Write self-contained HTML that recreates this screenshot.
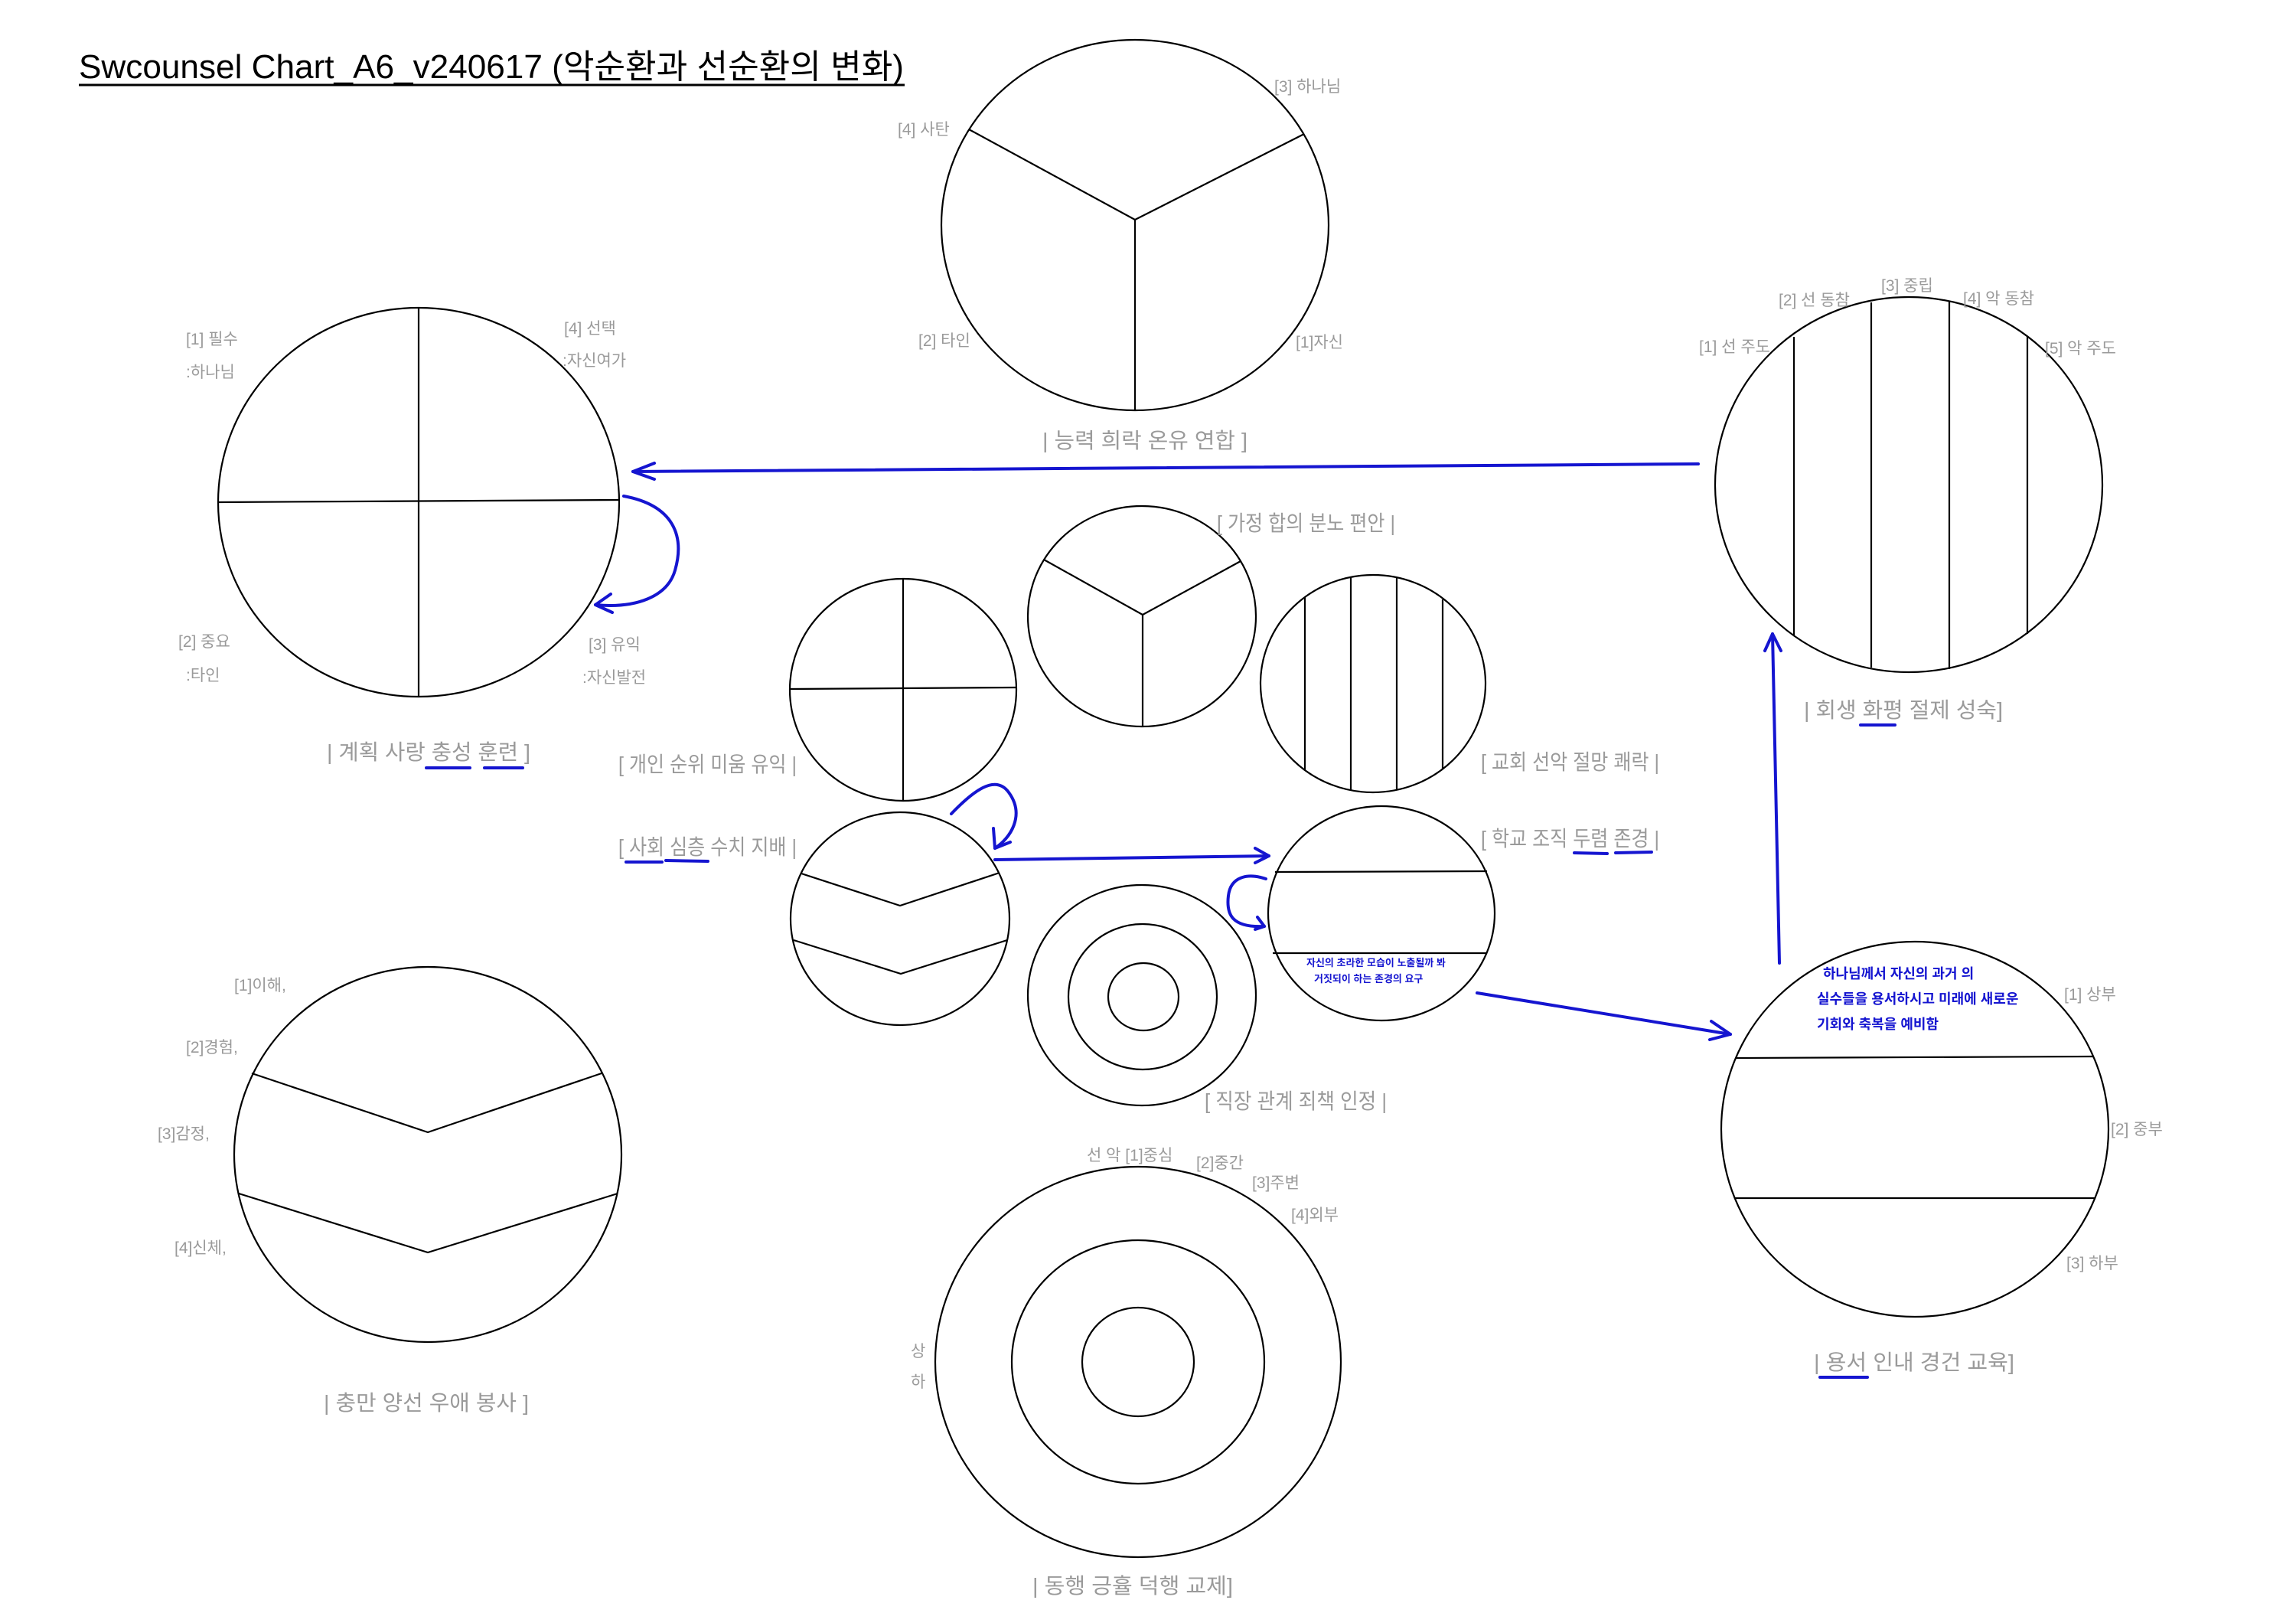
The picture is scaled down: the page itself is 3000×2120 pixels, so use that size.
<!DOCTYPE html>
<html><head><meta charset="utf-8"><style>
html,body{margin:0;padding:0;background:#fff;}
svg{display:block;}
text{font-family:"Liberation Sans","Noto Sans CJK KR",sans-serif;}
.l{fill:#9a9a9a;font-size:21px;}
.c{fill:#9a9a9a;font-size:28px;}
.k{fill:none;stroke:#000;stroke-width:2.2;}
.b{fill:none;stroke:#1515d0;stroke-width:4;stroke-linecap:round;stroke-linejoin:round;}
.h{fill:#1515d0;font-weight:bold;}
</style></head><body>
<svg width="3000" height="2120" viewBox="0 0 3000 2120" xmlns="http://www.w3.org/2000/svg">
<rect width="3000" height="2120" fill="#fff"/>
<text x="103" y="102" font-size="44" fill="#000" textLength="1078" lengthAdjust="spacingAndGlyphs">Swcounsel Chart_A6_v240617 (악순환과 선순환의 변화)</text>
<line x1="103" y1="111" x2="1182" y2="111" stroke="#000" stroke-width="3"/>

<ellipse class="k" cx="1483" cy="294" rx="253" ry="242"/>
<polyline class="k" points="1266,169 1483,287 1704,175"/>
<line class="k" x1="1483" y1="287" x2="1483" y2="536"/>
<text class="l" x="1665" y="120">[3] 하나님</text>
<text class="l" x="1173" y="176">[4] 사탄</text>
<text class="l" x="1200" y="452">[2] 타인</text>
<text class="l" x="1693" y="454">[1]자신</text>
<text class="c" x="1362" y="585" textLength="268" lengthAdjust="spacingAndGlyphs">| 능력 희락 온유 연합 ]</text>

<ellipse class="k" cx="547" cy="656" rx="262" ry="254"/>
<line class="k" x1="547" y1="402" x2="547" y2="910"/>
<line class="k" x1="285" y1="656" x2="809" y2="653"/>
<text class="l" x="243" y="450">[1] 필수</text>
<text class="l" x="243" y="493">:하나님</text>
<text class="l" x="737" y="436">[4] 선택</text>
<text class="l" x="735" y="478">:자신여가</text>
<text class="l" x="233" y="845">[2] 중요</text>
<text class="l" x="243" y="889">:타인</text>
<text class="l" x="769" y="849">[3] 유익</text>
<text class="l" x="761" y="892">:자신발전</text>
<text class="c" x="427" y="992" textLength="266" lengthAdjust="spacingAndGlyphs">| 계획 사랑 충성 훈련 ]</text>
<line class="b" x1="557" y1="1003" x2="614" y2="1003"/>
<line class="b" x1="633" y1="1003" x2="683" y2="1003"/>
<path class="b" d="M815,648 C880,660 895,700 882,745 C872,780 830,795 778,790"/>
<polyline class="b" points="798,776 778,790 800,800"/>

<ellipse class="k" cx="2494" cy="633" rx="253" ry="245"/>
<line class="k" x1="2344" y1="440" x2="2344" y2="830"/>
<line class="k" x1="2445" y1="395" x2="2445" y2="872"/>
<line class="k" x1="2547" y1="393" x2="2547" y2="874"/>
<line class="k" x1="2649" y1="440" x2="2649" y2="828"/>
<text class="l" x="2220" y="460">[1] 선 주도</text>
<text class="l" x="2324" y="399">[2] 선 동참</text>
<text class="l" x="2458" y="380">[3] 중립</text>
<text class="l" x="2565" y="397">[4] 악 동참</text>
<text class="l" x="2672" y="462">[5] 악 주도</text>
<text class="c" x="2357" y="937" textLength="260" lengthAdjust="spacingAndGlyphs">| 회생 화평 절제 성숙]</text>
<line class="b" x1="2431" y1="947" x2="2476" y2="947"/>
<line class="b" x1="2219" y1="606" x2="827" y2="616"/>
<polyline class="b" points="855,605 827,616 855,626"/>
<line class="b" x1="2325" y1="1258" x2="2316" y2="828"/>
<polyline class="b" points="2306,850 2316,828 2327,850"/>

<ellipse class="k" cx="559" cy="1508" rx="253" ry="245"/>
<polyline class="k" points="329,1402 559,1479 786,1402"/>
<polyline class="k" points="312,1559 559,1636 807,1559"/>
<text class="l" x="306" y="1294">[1]이해,</text>
<text class="l" x="243" y="1375">[2]경험,</text>
<text class="l" x="206" y="1488">[3]감정,</text>
<text class="l" x="228" y="1637">[4]신체,</text>
<text class="c" x="423" y="1842" textLength="268" lengthAdjust="spacingAndGlyphs">| 충만 양선 우애 봉사 ]</text>

<ellipse class="k" cx="2502" cy="1475" rx="253" ry="245"/>
<line class="k" x1="2268" y1="1382" x2="2736" y2="1380"/>
<line class="k" x1="2267" y1="1565" x2="2737" y2="1565"/>
<text class="h" x="2382" y="1278" font-size="18">하나님께서  자신의  과거 의</text>
<text class="h" x="2374" y="1311" font-size="18">실수들을  용서하시고  미래에 새로운</text>
<text class="h" x="2374" y="1344" font-size="18">기회와 축복을 예비함</text>
<text class="l" x="2697" y="1306">[1] 상부</text>
<text class="l" x="2758" y="1482">[2] 중부</text>
<text class="l" x="2700" y="1657">[3] 하부</text>
<text class="c" x="2370" y="1789" textLength="262" lengthAdjust="spacingAndGlyphs">| 용서 인내 경건 교육]</text>
<line class="b" x1="2378" y1="1799" x2="2440" y2="1799"/>
<line class="b" x1="1930" y1="1297" x2="2261" y2="1351"/>
<polyline class="b" points="2236,1334 2261,1351 2234,1358"/>

<ellipse class="k" cx="1487" cy="1779" rx="265" ry="255"/>
<ellipse class="k" cx="1487" cy="1779" rx="165" ry="159"/>
<ellipse class="k" cx="1487" cy="1779" rx="73" ry="71"/>
<text class="l" x="1420" y="1516">선  악 [1]중심</text>
<text class="l" x="1563" y="1526">[2]중간</text>
<text class="l" x="1636" y="1552">[3]주변</text>
<text class="l" x="1687" y="1594">[4]외부</text>
<text class="l" x="1190" y="1772">상</text>
<text class="l" x="1190" y="1812">하</text>
<text class="c" x="1349" y="2081" textLength="262" lengthAdjust="spacingAndGlyphs">| 동행 긍휼 덕행 교제]</text>

<ellipse class="k" cx="1180" cy="901" rx="148" ry="145"/>
<line class="k" x1="1180" y1="756" x2="1180" y2="1046"/>
<line class="k" x1="1032" y1="900" x2="1328" y2="898"/>
<text class="c" x="808" y="1008" font-size="24" textLength="233" lengthAdjust="spacingAndGlyphs">[ 개인 순위 미움 유익 |</text>

<ellipse class="k" cx="1492" cy="805" rx="149" ry="144"/>
<polyline class="k" points="1364,731 1493,803 1621,733"/>
<line class="k" x1="1493" y1="803" x2="1493" y2="949"/>
<text class="c" x="1590" y="693" font-size="24" textLength="233" lengthAdjust="spacingAndGlyphs">[ 가정 합의 분노 편안 |</text>

<ellipse class="k" cx="1794" cy="893" rx="147" ry="142"/>
<line class="k" x1="1705" y1="780" x2="1705" y2="1006"/>
<line class="k" x1="1765" y1="755" x2="1765" y2="1032"/>
<line class="k" x1="1825" y1="755" x2="1825" y2="1032"/>
<line class="k" x1="1885" y1="783" x2="1885" y2="1005"/>
<text class="c" x="1935" y="1005" font-size="24" textLength="233" lengthAdjust="spacingAndGlyphs">[ 교회 선악 절망 쾌락 |</text>

<ellipse class="k" cx="1176" cy="1200" rx="143" ry="139"/>
<polyline class="k" points="1047,1141 1176,1183 1306,1140"/>
<polyline class="k" points="1037,1228 1177,1272 1316,1228"/>
<text class="c" x="808" y="1116" font-size="24" textLength="233" lengthAdjust="spacingAndGlyphs">[ 사회 심층 수치 지배 |</text>
<line class="b" x1="818" y1="1126" x2="865" y2="1126"/>
<line class="b" x1="870" y1="1124" x2="925" y2="1125"/>
<path class="b" d="M1243,1063 C1270,1035 1300,1010 1318,1035 C1340,1065 1320,1095 1300,1108"/>
<polyline class="b" points="1298,1082 1300,1108 1320,1100"/>
<line class="b" x1="1300" y1="1123" x2="1658" y2="1118"/>
<polyline class="b" points="1640,1108 1658,1118 1640,1127"/>

<ellipse class="k" cx="1492" cy="1300" rx="149" ry="144"/>
<ellipse class="k" cx="1493" cy="1302" rx="97" ry="95"/>
<ellipse class="k" cx="1494" cy="1302" rx="46" ry="44"/>
<text class="c" x="1574" y="1448" font-size="24" textLength="238" lengthAdjust="spacingAndGlyphs">[ 직장 관계 죄책 인정 |</text>

<ellipse class="k" cx="1805" cy="1193" rx="148" ry="140"/>
<line class="k" x1="1666" y1="1139" x2="1943" y2="1138"/>
<line class="k" x1="1663" y1="1245" x2="1943" y2="1245"/>
<text class="c" x="1935" y="1105" font-size="24" textLength="233" lengthAdjust="spacingAndGlyphs">[ 학교 조직 두렴 존경 |</text>
<line class="b" x1="2057" y1="1114" x2="2100" y2="1115"/>
<line class="b" x1="2111" y1="1114" x2="2158" y2="1113"/>
<text class="h" x="1707" y="1262" font-size="13">자신의 초라한 모습이 노출될까 봐</text>
<text class="h" x="1717" y="1283" font-size="13">거짓되이 하는 존경의 요구</text>
<path class="b" d="M1654,1148 C1630,1140 1608,1145 1605,1170 C1602,1195 1610,1212 1652,1210"/>
<polyline class="b" points="1643,1198 1652,1210 1640,1214"/>
</svg>
</body></html>
